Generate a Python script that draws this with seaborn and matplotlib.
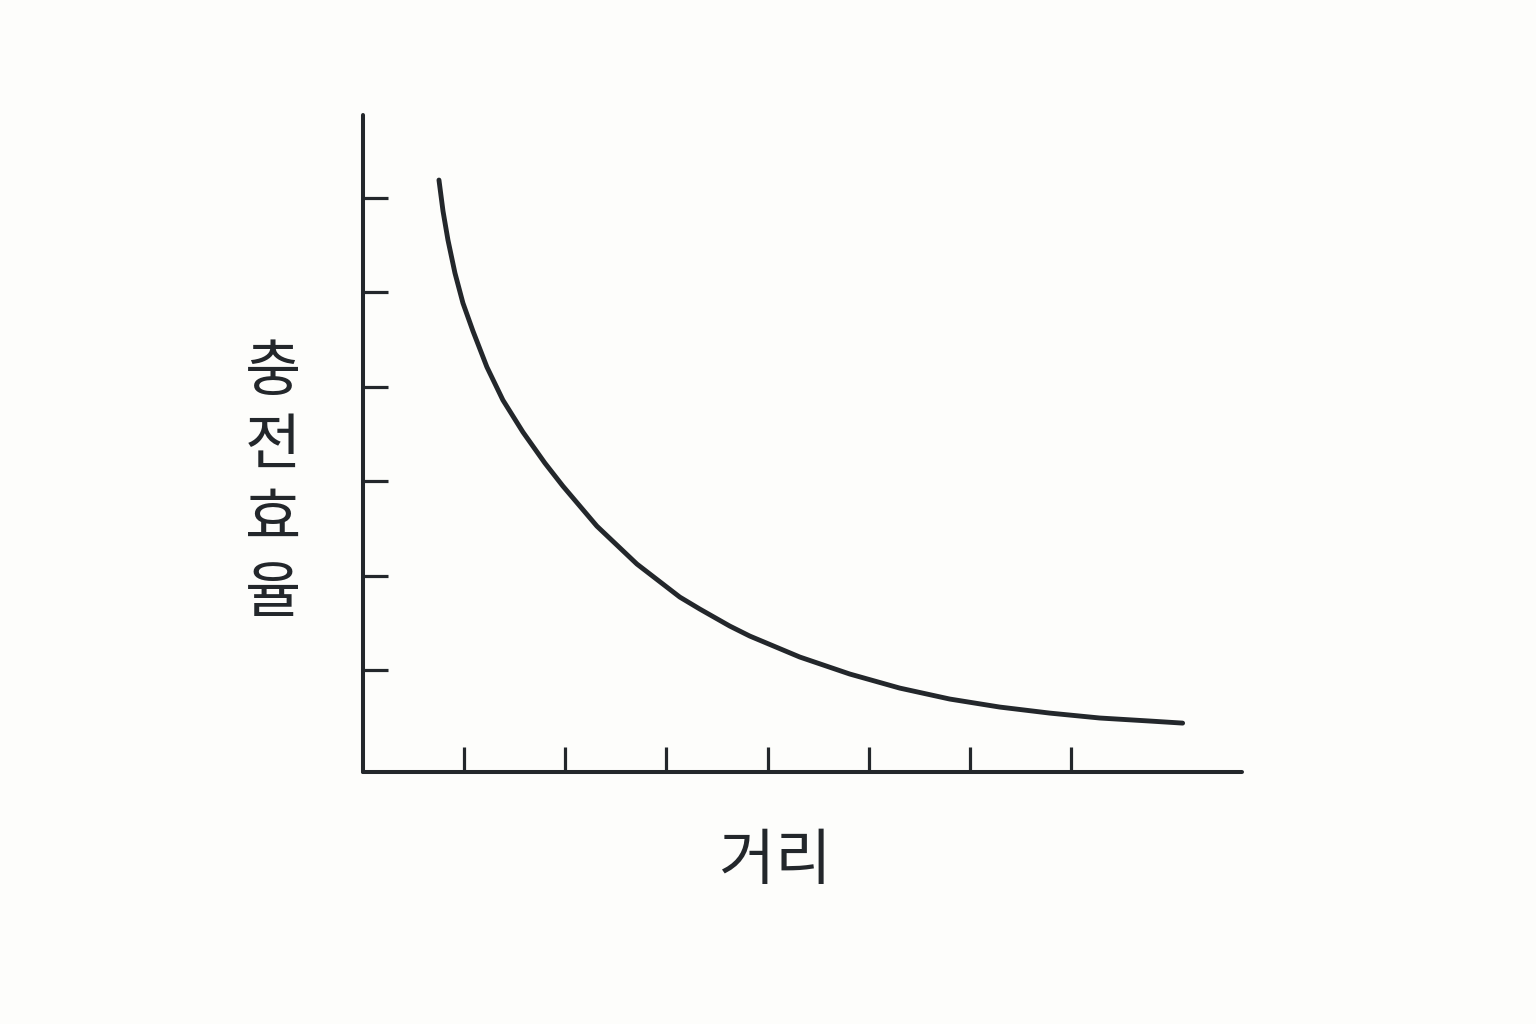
import pandas as pd
import seaborn as sns
import matplotlib.pyplot as plt

sns.set_theme(style="white")
plt.rcParams['font.family'] = ['Noto Sans CJK KR', 'DejaVu Sans']

INK = "#23272b"
BG = "#fdfdfb"

# distance vs. charging efficiency (tick units)
distance = [0.751, 0.791, 0.840, 0.909, 0.988, 1.087, 1.225, 1.383, 1.581, 1.798,
            1.976, 2.312, 2.708, 3.132, 3.330, 3.626, 3.824, 4.318, 4.812, 5.306,
            5.800, 6.294, 6.789, 7.283, 7.777, 8.103]
efficiency = [6.191, 5.862, 5.555, 5.206, 4.888, 4.591, 4.210, 3.860, 3.521, 3.193,
              2.949, 2.525, 2.123, 1.773, 1.646, 1.466, 1.360, 1.138, 0.958, 0.809,
              0.693, 0.608, 0.544, 0.492, 0.460, 0.438]
x_ticks = [1, 2, 3, 4, 5, 6, 7]
y_ticks = [1, 2, 3, 4, 5, 6]

df = pd.DataFrame({'distance': distance, 'efficiency': efficiency})

fig = plt.figure(figsize=(15.36, 10.24), dpi=100, facecolor=BG)
ax = fig.add_axes([363 / 1536, 1 - 772 / 1024, (1242 - 363) / 1536, (772 - 115) / 1024])
ax.set_facecolor(BG)

sns.lineplot(data=df, x='distance', y='efficiency', sort=False, ax=ax,
             color=INK, linewidth=3.5)
for l in ax.lines:
    l.set_solid_capstyle('round')
    l.set_solid_joinstyle('round')

ax.set_xlim(0, 8.69)
ax.set_ylim(-0.08, 6.88)
ax.set_xticks(x_ticks)
ax.set_yticks(y_ticks)
ax.set_xticklabels([])
ax.set_yticklabels([])
ax.tick_params(axis='both', direction='in', length=18, width=2.3, color=INK)
ax.xaxis.set_ticks_position('bottom')
ax.yaxis.set_ticks_position('left')

sns.despine(ax=ax)
for side in ['left', 'bottom']:
    ax.spines[side].set_color(INK)
    ax.spines[side].set_linewidth(2.9)
    ax.spines[side].set_capstyle('round')

ax.set_xlabel('')
ax.set_ylabel('')
fig.text(775 / 1536, 1 - 862 / 1024, '거리', ha='center', va='center',
         fontsize=44, color=INK)
fig.text(273 / 1536, 1 - 484 / 1024, '충\n전\n효\n율', ha='center', va='center',
         fontsize=44, color=INK, linespacing=1.24)

fig.savefig('out.png', dpi=100, facecolor=BG)
